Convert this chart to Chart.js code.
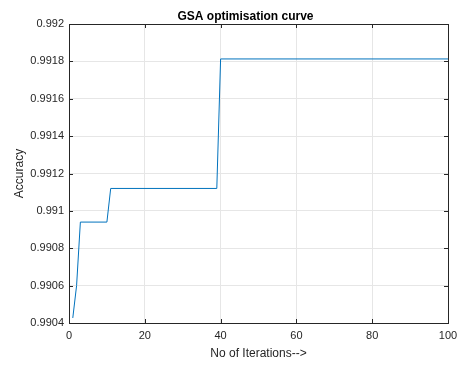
<!DOCTYPE html>
<html>
<head>
<meta charset="utf-8">
<script src="https://cdn.jsdelivr.net/npm/chart.js@4/dist/chart.umd.min.js"></script>
<style>
  html, body { margin: 0; padding: 0; background: #fff; }
  #wrap { width: 459px; height: 365px; }
</style>
</head>
<body>
<div id="wrap"><canvas id="gsaCurve" width="459" height="365"></canvas></div>
<script>
// data (breakpoints of the step curve)
const iterations = [1, 2, 3, 10, 11, 39, 40, 100];
const accuracy = [0.990427, 0.9906, 0.99094, 0.99094, 0.99112, 0.99112, 0.991813, 0.991813];
const xTicks = [0, 20, 40, 60, 80, 100];
const yTicks = [0.9904, 0.9906, 0.9908, 0.991, 0.9912, 0.9914, 0.9916, 0.9918, 0.992];
const chartTitle = "GSA optimisation curve";

const textColor = "#262626";
const fontFamily = "Arial, 'Liberation Sans', Helvetica, sans-serif";

// box round the axes + inward ticks like matlab, and the title
const boxPlugin = {
  id: "box",
  afterDraw(chart) {
    const { ctx, chartArea: a, scales } = chart;
    ctx.save();
    ctx.strokeStyle = "#262626";
    ctx.lineWidth = 1;
    ctx.beginPath();
    xTicks.forEach((t) => {
      const px = Math.round(scales.x.getPixelForValue(t)) + 0.5;
      ctx.moveTo(px, a.bottom);
      ctx.lineTo(px, a.bottom - 4);
      ctx.moveTo(px, a.top);
      ctx.lineTo(px, a.top + 4);
    });
    yTicks.forEach((t) => {
      const py = Math.round(scales.y.getPixelForValue(t)) + 0.5;
      ctx.moveTo(a.left, py);
      ctx.lineTo(a.left + 4, py);
      ctx.moveTo(a.right, py);
      ctx.lineTo(a.right - 4, py);
    });
    ctx.stroke();
    ctx.strokeRect(Math.round(a.left) + 0.5, Math.round(a.top) + 0.5,
      Math.round(a.right - a.left), Math.round(a.bottom - a.top));

    ctx.fillStyle = "#000";
    ctx.font = "bold 12px " + fontFamily;
    ctx.textAlign = "center";
    ctx.textBaseline = "alphabetic";
    ctx.fillText(chartTitle, (a.left + a.right) / 2 - 13, a.top - 4);
    ctx.restore();
  },
};

let ctx = document.getElementById("gsaCurve").getContext("2d");
let gsaChart = new Chart(ctx, {
  type: "line",
  data: {
    datasets: [
      {
        data: iterations.map((x, i) => ({ x: x, y: accuracy[i] })),
        borderColor: "#0072BD",
        borderWidth: 1,
        pointRadius: 0,
        tension: 0,
        fill: false,
      },
    ],
  },
  options: {
    responsive: false,
    animation: false,
    layout: { padding: { left: 0, right: 11, top: 24, bottom: 0 } },
    plugins: {
      legend: { display: false },
      tooltip: { enabled: false },
      title: { display: false },
    },
    scales: {
      x: {
        type: "linear",
        min: 0,
        max: 100,
        afterBuildTicks: (s) => { s.ticks = xTicks.map((v) => ({ value: v })); },
        afterFit: (s) => {
          s.height = 42;
          s.paddingLeft = 0;
          s.paddingRight = 0;
        },
        grid: { color: "#e6e6e6", tickLength: 0, drawTicks: false },
        border: { display: false },
        ticks: {
          color: textColor,
          padding: 6,
          maxRotation: 0,
          font: { family: fontFamily, size: 11 },
        },
        title: {
          display: true,
          text: "No of Iterations-->",
          color: textColor,
          font: { family: fontFamily, size: 12 },
          padding: { top: 0, bottom: 4 },
        },
      },
      y: {
        type: "linear",
        min: 0.9904,
        max: 0.992,
        afterBuildTicks: (s) => { s.ticks = yTicks.map((v) => ({ value: v })); },
        afterFit: (s) => {
          s.width = 69;
          s.paddingTop = 0;
          s.paddingBottom = 0;
        },
        grid: { color: "#e6e6e6", tickLength: 0, drawTicks: false },
        border: { display: false },
        ticks: {
          color: textColor,
          padding: 5,
          font: { family: fontFamily, size: 11 },
          callback: (v) => String(Number(v.toFixed(4))),
        },
        title: {
          display: true,
          text: "Accuracy",
          color: textColor,
          font: { family: fontFamily, size: 12 },
          padding: { top: 12, bottom: 0 },
        },
      },
    },
  },
  plugins: [boxPlugin],
});
</script>
</body>
</html>
